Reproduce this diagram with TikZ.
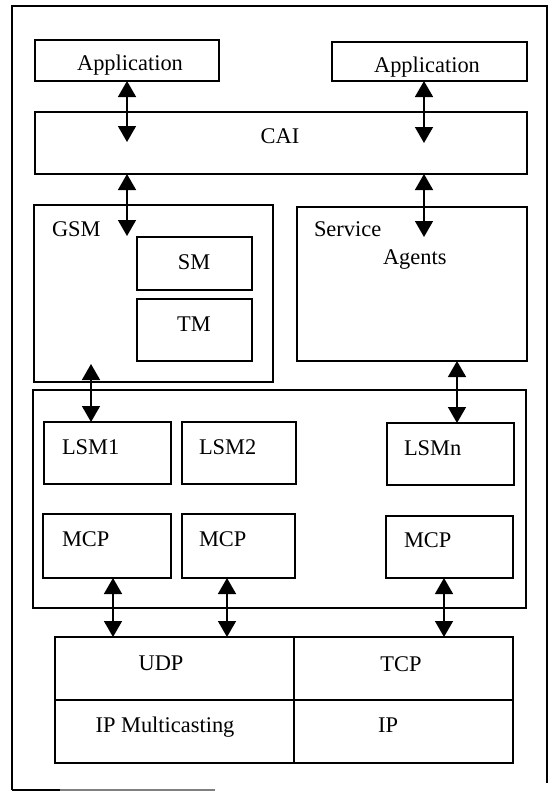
\documentclass[tikz,border=0pt]{standalone}
\usepackage{fontspec}
\setmainfont{Liberation Serif}
\usetikzlibrary{arrows.meta}
\tikzset{
  box/.style={draw, line width=1.5bp, rectangle, inner sep=0pt, outer sep=0pt},
  lbl/.style={inner sep=0pt, outer sep=0pt, font=\fontsize{22.5}{27}\selectfont},
  dbl/.style={line width=1.5bp, {Triangle[width=18bp,length=16bp]}-{Triangle[width=18bp,length=16bp]}},
  frame/.style={line width=1.5bp}
}
\begin{document}
\begin{tikzpicture}[x=1bp,y=-1bp]
\useasboundingbox (0,0) rectangle (552,792);
% outer frame
\draw[frame] (12,790) -- (12,6) -- (547,6) -- (547,783);
\draw[frame] (12,790) -- (60,790);
\draw[frame, gray] (60,790) -- (215,790);

% boxes
\node[box, minimum width=184bp, minimum height=41bp] (app1) at (127,60.5) {};
\node[box, minimum width=195bp, minimum height=39bp] (app2) at (429.5,61.5) {};
\node[box, minimum width=492bp, minimum height=62bp] (cai) at (281,143) {};
\node[box, minimum width=239bp, minimum height=177bp] (gsm) at (153.5,293.5) {};
\node[box, minimum width=115bp, minimum height=53bp] (sm) at (194.5,263.5) {};
\node[box, minimum width=115bp, minimum height=62bp] (tm) at (194.5,330) {};
\node[box, minimum width=230bp, minimum height=154bp] (svc) at (412,284) {};
\node[box, minimum width=493bp, minimum height=218bp] (cont) at (279.5,499) {};
\node[box, minimum width=127bp, minimum height=62bp] (lsm1) at (107.5,453) {};
\node[box, minimum width=114bp, minimum height=62bp] (lsm2) at (239,453) {};
\node[box, minimum width=127bp, minimum height=62bp] (lsmn) at (450.5,454) {};
\node[box, minimum width=128bp, minimum height=64bp] (mcp1) at (107,546) {};
\node[box, minimum width=113bp, minimum height=64bp] (mcp2) at (238.5,546) {};
\node[box, minimum width=127bp, minimum height=62bp] (mcpn) at (449.5,547) {};
\node[box, minimum width=239bp, minimum height=63bp] (udp) at (174.5,668.5) {};
\node[box, minimum width=219bp, minimum height=63bp] (tcp) at (403.5,668.5) {};
\node[box, minimum width=239bp, minimum height=63bp] (ipm) at (174.5,731.5) {};
\node[box, minimum width=219bp, minimum height=63bp] (ip) at (403.5,731.5) {};

% labels
\node[lbl, anchor=base] (tapp1) at (130,71) {Application};
\node[lbl, anchor=base] (tapp2) at (427,73) {Application};
\node[lbl, anchor=base] (tcai) at (280,143) {CAI};
\node[lbl, anchor=base west] (tgsm) at (52,236) {GSM};
\node[lbl, anchor=base] (tsm) at (194,269) {SM};
\node[lbl, anchor=base] (ttm) at (194,331) {TM};
\node[lbl, anchor=base west] (tsvc) at (314,236) {Service};
\node[lbl, anchor=base west] (tag) at (383,264) {Agents};
\node[lbl, anchor=base west] (tlsm1) at (62,454) {LSM1};
\node[lbl, anchor=base west] (tlsm2) at (199,454) {LSM2};
\node[lbl, anchor=base west] (tlsmn) at (404,455) {LSMn};
\node[lbl, anchor=base west] (tmcp1) at (62,546) {MCP};
\node[lbl, anchor=base west] (tmcp2) at (199,546) {MCP};
\node[lbl, anchor=base west] (tmcpn) at (404,547) {MCP};
\node[lbl, anchor=base] (tudp) at (161,670) {UDP};
\node[lbl, anchor=base] (ttcp) at (401,671) {TCP};
\node[lbl, anchor=base] (tipm) at (165,732) {IP Multicasting};
\node[lbl, anchor=base] (tip) at (388,732) {IP};

% connector end points
\coordinate (a1) at (127,142);
\coordinate (a2) at (424,143);
\coordinate (a3) at (127,236);
\coordinate (a4) at (424,237);
\coordinate (a5) at (91,364);
\coordinate (c6) at (457,0);
\coordinate (c7) at (113,0);
\coordinate (c8) at (227,0);
\coordinate (c9) at (444,0);

% connectors
\draw[dbl] (app1.south -| a1) -- (a1);
\draw[dbl] (app2.south -| a2) -- (a2);
\draw[dbl] (cai.south -| a3) -- (a3);
\draw[dbl] (cai.south -| a4) -- (a4);
\draw[dbl] (lsm1.north -| a5) -- (a5);
\draw[dbl] (svc.south -| c6) -- (lsmn.north -| c6);
\draw[dbl] (mcp1.south -| c7) -- (udp.north -| c7);
\draw[dbl] (mcp2.south -| c8) -- (udp.north -| c8);
\draw[dbl] (mcpn.south -| c9) -- (tcp.north -| c9);
\end{tikzpicture}
\end{document}
